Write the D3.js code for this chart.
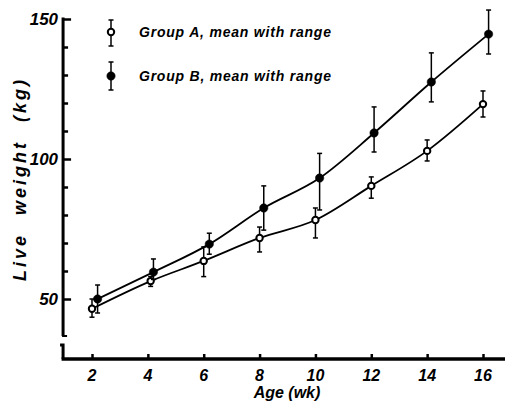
<!DOCTYPE html>
<html>
<head>
<meta charset="utf-8">
<script src="https://cdn.jsdelivr.net/npm/d3@7"></script>
<style>
  html, body { margin: 0; padding: 0; background: #fff; }
  svg { display: block; }
  text { font-family: "Liberation Sans", Arial, sans-serif; font-style: italic; fill: #000; }
</style>
</head>
<body>
<svg id="chart" width="505" height="409"></svg>
<script>
// ---- data ----
const xTicks = [2, 4, 6, 8, 10, 12, 14, 16];
const yMajorTicks = [50, 100, 150];
const yMinorTicks = [60, 70, 80, 90, 110, 120, 130, 140];

// plotted ages (points are slightly offset in the original to avoid overlap)
const agesA = [2, 4.1, 6, 8, 10, 12, 14, 16];
const meanA = [46.5, 56.4, 63.6, 71.8, 78.2, 90.4, 102.9, 119.6];
const minA  = [43.5, 54.5, 58, 66.8, 71.8, 86, 99.3, 115];
const maxA  = [50, 58, 68.6, 75.7, 82.5, 93.6, 106.8, 124.3];

const agesB = [2.2, 4.2, 6.2, 8.15, 10.15, 12.1, 14.15, 16.2];
const meanB = [50, 59.6, 69.6, 82.5, 93.2, 109.3, 127.5, 144.6];
const minB  = [45, 57, 66, 74.6, 81.8, 102.5, 120.4, 137.5];
const maxB  = [55, 64.3, 73.5, 90.4, 102, 118.6, 137.9, 153.2];

const legendLabels = ["Group A, mean with range", "Group B, mean with range"];
const xTitle = "Age (wk)";
const yTitle = "Live weight (kg)";

// ---- scales ----
const x = d3.scaleLinear().domain([2, 16]).range([92, 483]);
const y = d3.scaleLinear().domain([50, 150]).range([299, 19]);

const svg = d3.select("#chart");
const axisX = x(1) - 1;     // y axis position
const baseY = 359;          // x axis position

// ---- y axis (with break) ----
svg.append("line").attr("x1", axisX).attr("x2", axisX)
  .attr("y1", y(150.5)).attr("y2", 336)
  .attr("stroke", "#000").attr("stroke-width", 3);
svg.append("line").attr("x1", axisX - 1).attr("x2", axisX + 4)
  .attr("y1", 336).attr("y2", 336).attr("stroke", "#000").attr("stroke-width", 2);
svg.append("path")
  .attr("d", `M${axisX - 3},345 L${axisX},345 L${axisX},${baseY}`)
  .attr("fill", "none").attr("stroke", "#000").attr("stroke-width", 3);

const yAxisMajor = d3.axisRight(y).tickValues(yMajorTicks).tickSize(8).tickFormat("");
const gMaj = svg.append("g").attr("transform", `translate(${axisX},0)`).call(yAxisMajor);
gMaj.select(".domain").remove();
gMaj.selectAll(".tick line").attr("stroke", "#000").attr("stroke-width", 2.5);

const yAxisMinor = d3.axisRight(y).tickValues(yMinorTicks).tickSize(5).tickFormat("");
const gMin = svg.append("g").attr("transform", `translate(${axisX},0)`).call(yAxisMinor);
gMin.select(".domain").remove();
gMin.selectAll(".tick line").attr("stroke", "#000").attr("stroke-width", 2.5);

// y tick labels
svg.append("g").selectAll("text").data(yMajorTicks).join("text")
  .attr("x", axisX - 5).attr("y", d => y(d) + 6)
  .attr("text-anchor", "end")
  .style("font-size", "17px").style("font-weight", "bold")
  .text(d => d);

// ---- x axis ----
svg.append("line").attr("x1", axisX - 1.5).attr("x2", 505)
  .attr("y1", baseY).attr("y2", baseY)
  .attr("stroke", "#000").attr("stroke-width", 3.5);
const xAxis = d3.axisTop(x).tickValues(xTicks).tickSize(5).tickFormat("");
const gx = svg.append("g").attr("transform", `translate(0,${baseY})`).call(xAxis);
gx.select(".domain").remove();
gx.selectAll(".tick line").attr("stroke", "#000").attr("stroke-width", 2.5);

svg.append("g").selectAll("text").data(xTicks).join("text")
  .attr("x", d => x(d)).attr("y", 381)
  .attr("text-anchor", "middle")
  .style("font-size", "16px").style("font-weight", "bold")
  .text(d => d);

// ---- titles ----
svg.append("text").attr("x", 287).attr("y", 398)
  .attr("text-anchor", "middle")
  .style("font-size", "16px").style("font-weight", "bold")
  .text(xTitle);
svg.append("text")
  .attr("transform", `translate(26,179) rotate(-90)`)
  .attr("text-anchor", "middle")
  .style("font-size", "18px").style("font-weight", "bold")
  .style("word-spacing", "10px").style("letter-spacing", "3px")
  .text(yTitle);

// ---- series ----
function series(ages, mean, mn, mx, filled) {
  const pts = ages.map((a, i) => ({ a, m: mean[i], lo: mn[i], hi: mx[i] }));
  const g = svg.append("g");
  g.append("path").datum(pts)
    .attr("d", d3.line().x(d => x(d.a)).y(d => y(d.m)).curve(d3.curveMonotoneX))
    .attr("fill", "none").attr("stroke", "#000").attr("stroke-width", 1.8);
  const eb = g.selectAll(".eb").data(pts).join("g");
  eb.append("line").attr("x1", d => x(d.a)).attr("x2", d => x(d.a))
    .attr("y1", d => y(d.hi)).attr("y2", d => y(d.lo))
    .attr("stroke", "#000").attr("stroke-width", 1.5);
  eb.append("line").attr("x1", d => x(d.a) - 2.5).attr("x2", d => x(d.a) + 2.5)
    .attr("y1", d => y(d.hi)).attr("y2", d => y(d.hi))
    .attr("stroke", "#000").attr("stroke-width", 1.5);
  eb.append("line").attr("x1", d => x(d.a) - 2.5).attr("x2", d => x(d.a) + 2.5)
    .attr("y1", d => y(d.lo)).attr("y2", d => y(d.lo))
    .attr("stroke", "#000").attr("stroke-width", 1.5);
  g.selectAll("circle").data(pts).join("circle")
    .attr("cx", d => x(d.a)).attr("cy", d => y(d.m))
    .attr("r", filled ? 4.2 : 3.2)
    .attr("fill", filled ? "#000" : "#fff")
    .attr("stroke", "#000").attr("stroke-width", filled ? 0.5 : 2);
}
series(agesA, meanA, minA, maxA, false);
series(agesB, meanB, minB, maxB, true);

// ---- legend ----
const legend = [
  { cy: 32, top: 20, bot: 46, filled: false, label: legendLabels[0] },
  { cy: 76, top: 62, bot: 90, filled: true, label: legendLabels[1] }
];
const lg = svg.append("g").selectAll("g").data(legend).join("g");
const lx = 111;
lg.append("line").attr("x1", lx).attr("x2", lx).attr("y1", d => d.top).attr("y2", d => d.bot)
  .attr("stroke", "#000").attr("stroke-width", 1.5);
lg.append("line").attr("x1", lx - 2.5).attr("x2", lx + 2.5).attr("y1", d => d.top).attr("y2", d => d.top)
  .attr("stroke", "#000").attr("stroke-width", 1.5);
lg.append("line").attr("x1", lx - 2.5).attr("x2", lx + 2.5).attr("y1", d => d.bot).attr("y2", d => d.bot)
  .attr("stroke", "#000").attr("stroke-width", 1.5);
lg.append("circle").attr("cx", lx).attr("cy", d => d.cy)
  .attr("r", d => d.filled ? 4.2 : 3.2)
  .attr("fill", d => d.filled ? "#000" : "#fff")
  .attr("stroke", "#000").attr("stroke-width", d => d.filled ? 0.5 : 2);
lg.append("text").attr("x", 139).attr("y", d => d.cy + 5)
  .style("font-size", "14px").style("font-weight", "bold")
  .attr("textLength", 192).attr("lengthAdjust", "spacing")
  .text(d => d.label);
</script>
</body>
</html>
